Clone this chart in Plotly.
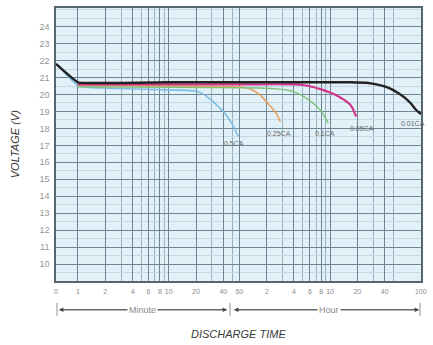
import numpy as np
import plotly.graph_objects as go

# Discharge time axis (minutes, log scale); "0" sits at the left edge
X_START_MIN = 0.573
X_END_MIN = 6030
x_tick_minutes = [X_START_MIN, 1, 2, 4, 6, 8, 10, 20, 40, 60,
                  120, 240, 360, 480, 600, 1200, 2400, 6000]
x_tick_labels = ["0", "1", "2", "4", "6", "8", "10", "20", "40", "60",
                 "2", "4", "6", "8", "10", "20", "40", "100"]
x_minor_minutes = [3, 5, 7, 9, 30, 50, 180, 300, 420, 540, 1800, 3000]

y_tick_values = list(range(10, 25))

# Discharge curves: time in minutes, voltage in V
rate_names = ["0.5CA", "0.25CA", "0.1CA", "0.05CA", "0.01CA"]

t_05 = [0.573, 0.75, 1, 1.3, 3, 10, 16, 19.8, 23, 26, 29, 32.8, 36, 40, 45.6, 50, 53, 55.9, 58.5]
v_05 = [21.8, 21.15, 20.5, 20.42, 20.35, 20.27, 20.24, 20.2, 20.08, 19.9, 19.7, 19.45, 19.23,
        19.0, 18.6, 18.25, 18.0, 17.75, 17.55]

t_025 = [1, 10, 60, 70, 81.7, 90, 100, 108, 116, 125, 135, 150, 160, 170]
v_025 = [20.52, 20.5, 20.45, 20.4, 20.3, 20.17, 20.0, 19.83, 19.65, 19.45, 19.25, 18.95, 18.7, 18.4]

t_01 = [1, 10, 100, 160, 208, 245, 280, 310, 345, 380, 420, 450, 480, 530, 573]
v_01 = [20.45, 20.42, 20.38, 20.33, 20.25, 20.14, 20.0, 19.86, 19.7, 19.53, 19.35, 19.18, 19.0,
        18.65, 18.3]

t_005 = [1, 10, 100, 249, 300, 350, 410, 480, 600, 738, 860, 1000, 1060, 1100, 1164]
v_005 = [20.6, 20.6, 20.6, 20.6, 20.56, 20.5, 20.41, 20.3, 20.12, 19.9, 19.68, 19.4, 19.2,
         19.0, 18.7]

t_001 = [0.573, 0.75, 1, 10, 100, 1000, 1578, 2000, 2617, 3300, 4018, 4700, 5310, 5700, 6030]
v_001 = [21.8, 21.25, 20.72, 20.72, 20.72, 20.72, 20.68, 20.58, 20.4, 20.12, 19.8, 19.45, 19.1,
         18.95, 18.85]

series_t = [t_05, t_025, t_01, t_005, t_001]
series_v = [v_05, v_025, v_01, v_005, v_001]
series_colors = ["#7fbde4", "#e9a05c", "#7fc07a", "#d2368c", "#222222"]
series_widths = [1.6, 1.6, 1.4, 2.2, 2.4]

# Rate label anchors (minutes, volts)
label_t = [52, 166, 530, 1350, 4900]
label_v = [17.1, 17.7, 17.7, 18.0, 18.3]

GRID = "#6d8595"
GRID_MINOR = "#9ab1be"
GRID_FAINT = "#c3d9e3"
FONT = "Liberation Sans, Arial, sans-serif"

fig = go.Figure()
for name, t, v, c, w in zip(rate_names, series_t, series_v, series_colors, series_widths):
    fig.add_trace(go.Scatter(x=t, y=v, mode="lines", name=name,
                             line=dict(color=c, width=w, shape="spline", smoothing=0.3),
                             showlegend=False))

for name, t, v in zip(rate_names, label_t, label_v):
    fig.add_annotation(x=np.log10(t), y=v, xref="x", yref="y", text=name,
                       showarrow=False, font=dict(family=FONT, size=7, color="#6a6a6a"))

fig.update_xaxes(type="log", range=[np.log10(X_START_MIN), np.log10(X_END_MIN)],
                 tickmode="array", tickvals=x_tick_minutes, ticktext=x_tick_labels,
                 ticks="", ticklabelstandoff=3,
                 tickangle=0, ticklabeloverflow="allow",
                 tickfont=dict(family=FONT, size=7, color="#8a8a8a"),
                 showgrid=True, gridcolor=GRID, gridwidth=1,
                 minor=dict(tickvals=x_minor_minutes, showgrid=True,
                            gridcolor=GRID_MINOR, gridwidth=1, ticks=""),
                 showline=True, linecolor="#55666f", linewidth=1.5, mirror=True,
                 zeroline=False)
fig.update_yaxes(range=[9.0, 25.1], tickmode="array", tickvals=y_tick_values,
                 ticks="", ticklabelstandoff=3,
                 tickfont=dict(family=FONT, size=9, color="#959595"),
                 showgrid=True, gridcolor=GRID, gridwidth=1,
                 minor=dict(dtick=0.5, showgrid=True, gridcolor=GRID_FAINT,
                            gridwidth=1, ticks=""),
                 showline=True, linecolor="#55666f", linewidth=1.5, mirror=True,
                 zeroline=False)

# Plot geometry in pixels, used to place the under-axis arrows
L, R, T, B, W, H = 56, 10, 6, 64, 433, 345
PW, PH = W - L - R, H - T - B


def px(xpix):
    return (xpix - L) / PW


def py(ypix):
    return (H - B - ypix) / PH


ARROW_Y = 310
arrow_color = "#444444"
# Minute span and hour span arrows
for tip, tail in [(59, 228), (228, 59), (235, 421), (421, 235)]:
    fig.add_annotation(x=px(tip), y=py(ARROW_Y), xref="paper", yref="paper",
                       ax=tail - tip, ay=0, axref="pixel", ayref="pixel",
                       text="", showarrow=True, arrowhead=2, arrowsize=1.1,
                       arrowwidth=0.8, arrowcolor=arrow_color)
for xv in [57, 231, 422]:
    fig.add_shape(type="line", xref="paper", yref="paper",
                  x0=px(xv), x1=px(xv), y0=py(ARROW_Y - 7), y1=py(ARROW_Y + 6),
                  line=dict(color="#777777", width=0.8))

fig.add_annotation(x=px(143), y=py(ARROW_Y), xref="paper", yref="paper",
                   xanchor="center", yanchor="middle",
                   text="Minute", showarrow=False, bgcolor="white",
                   font=dict(family=FONT, size=9, color="#8a8a8a"))
fig.add_annotation(x=px(330), y=py(ARROW_Y), xref="paper", yref="paper",
                   xanchor="center", yanchor="middle",
                   text="Hour", showarrow=False, bgcolor="white",
                   font=dict(family=FONT, size=9, color="#8a8a8a"))

# Axis titles
fig.add_annotation(x=px(240), y=py(334), xref="paper", yref="paper",
                   xanchor="center", yanchor="middle",
                   text="<i>DISCHARGE TIME</i>", showarrow=False,
                   font=dict(family=FONT, size=11, color="#3a3a3a"))
fig.add_annotation(x=px(15), y=py(143), xref="paper", yref="paper",
                   xanchor="center", yanchor="middle",
                   text="<i>VOLTAGE (V)</i>", showarrow=False, textangle=-90,
                   font=dict(family=FONT, size=11, color="#3a3a3a"))

fig.update_layout(width=W, height=H,
                  margin=dict(l=L, r=R, t=T, b=B),
                  paper_bgcolor="white", plot_bgcolor="#e2f1f8",
                  showlegend=False)

fig.write_html("out.html")
